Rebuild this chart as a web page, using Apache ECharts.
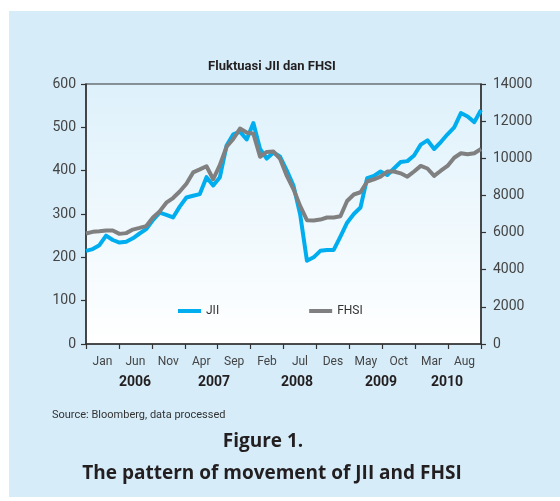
<!DOCTYPE html>
<html>
<head>
<meta charset="utf-8">
<script src="https://cdn.jsdelivr.net/npm/echarts@6/dist/echarts.min.js"></script>
<style>
  html, body { margin: 0; padding: 0; background: #fff; }
  #bg { position: absolute; left: 9px; top: 11px; width: 551px; height: 486px; background: #d6ecf9; }
  #main { position: absolute; left: 0; top: 0; width: 560px; height: 501px; }
</style>
</head>
<body>
<div id="bg"></div>
<div id="main"></div>
<script>
// tick labels (one per 5-month step)
var periodLabels = ['Jan', 'Jun', 'Nov', 'Apr', 'Sep', 'Feb', 'Jul', 'Des', 'May', 'Oct', 'Mar', 'Aug'];
var years = ['2006', '2007', '2008', '2009', '2010'];
var yearX = [135, 214, 297, 381, 447];

// monthly points Jan 2006 .. Dec 2010
var monthNames = ['Jan','Feb','Mar','Apr','May','Jun','Jul','Aug','Sep','Oct','Nov','Dec'];
var months = [];
for (var y = 2006; y <= 2010; y++) {
  for (var m = 0; m < 12; m++) months.push(monthNames[m] + ' ' + y);
}

var jii = [215, 219, 228, 250, 240, 234, 236, 244, 255, 265,
           286, 303, 298, 292, 317, 338, 342, 346, 385, 366,
           385, 458, 484, 490, 472, 510, 450, 428, 442, 432,
           400, 365, 298, 192, 200, 215, 217, 217, 248, 280,
           300, 315, 383, 388, 398, 390, 405, 420, 422, 435,
           460, 470, 450, 466, 484, 500, 533, 525, 512, 540];

var fhsi = [5950, 6040, 6070, 6110, 6110, 5930, 5970, 6160, 6250, 6350,
            6810, 7140, 7610, 7860, 8210, 8630, 9240, 9400, 9570, 8870,
            9640, 10620, 11040, 11600, 11390, 11320, 10080, 10340, 10360, 9960,
            9050, 8330, 7420, 6670, 6650, 6700, 6810, 6810, 6880, 7700,
            8050, 8170, 8750, 8870, 9010, 9290, 9290, 9190, 9010, 9290,
            9590, 9450, 9050, 9330, 9590, 10030, 10270, 10220, 10270, 10500];

var FONT = 'Roboto, "Noto Sans", sans-serif';
var textColor = '#231f20';
var axisColor = '#333';

var chart = echarts.init(document.getElementById('main'), null, { renderer: 'canvas' });

var yearTexts = years.map(function (t, i) {
  return {
    type: 'text',
    x: yearX[i],
    y: 382,
    style: { text: t, fill: textColor, font: 'bold 14px ' + FONT, align: 'center', verticalAlign: 'middle' }
  };
});

var option = {
  animation: false,
  backgroundColor: 'transparent',
  title: [
    {
      text: 'Fluktuasi JII dan FHSI',
      left: 267, top: 55, textAlign: 'center',
      textStyle: { fontSize: 13, fontWeight: 'bold', color: textColor, fontFamily: FONT }
    },
    {
      text: 'Source: Bloomberg, data processed',
      left: 47, top: 405,
      textStyle: { fontSize: 11, fontWeight: 'normal', color: '#333', fontFamily: FONT }
    },
    {
      text: 'Figure 1.',
      left: 258, top: 427, textAlign: 'center',
      textStyle: { fontSize: 19, fontWeight: 'bold', color: textColor, fontFamily: '"Open Sans", sans-serif' }
    },
    {
      text: 'The pattern of movement of JII and FHSI',
      left: 267, top: 459, textAlign: 'center',
      textStyle: { fontSize: 19, fontWeight: 'bold', color: textColor, fontFamily: '"Open Sans", sans-serif' }
    }
  ],
  legend: {
    left: 173, top: 300,
    itemGap: 90,
    itemWidth: 23, itemHeight: 4,
    icon: 'rect',
    textStyle: { fontSize: 12, color: '#333', fontFamily: FONT },
    data: ['JII', 'FHSI']
  },
  grid: {
    left: 86, right: 79, top: 84, bottom: 157,
    show: true,
    borderColor: axisColor, borderWidth: 1.2,
    backgroundColor: new echarts.graphic.LinearGradient(0, 0, 0, 1, [
      { offset: 0, color: '#def1fb' },
      { offset: 1, color: '#ffffff' }
    ])
  },
  xAxis: [
    {
      type: 'category',
      data: periodLabels,
      boundaryGap: true,
      axisLine: { show: true, lineStyle: { color: axisColor, width: 1.5 } },
      axisTick: { show: true, interval: 0, length: 5, lineStyle: { color: axisColor, width: 1.2 } },
      axisLabel: { interval: 0, margin: 12, fontSize: 12, color: '#444', fontFamily: FONT },
      splitLine: { show: false }
    },
    {
      type: 'category',
      data: months,
      boundaryGap: false,
      show: false
    }
  ],
  yAxis: [
    {
      type: 'value',
      min: 0, max: 600, interval: 100,
      position: 'left',
      axisLine: { show: true, lineStyle: { color: axisColor, width: 1.5 } },
      axisTick: { show: true, length: 5, lineStyle: { color: axisColor, width: 1.2 } },
      axisLabel: { margin: 10, fontSize: 14, color: '#444', fontFamily: FONT },
      splitLine: { show: false }
    },
    {
      type: 'value',
      min: 0, max: 14000, interval: 2000,
      position: 'right',
      axisLine: { show: true, lineStyle: { color: axisColor, width: 1.5 } },
      axisTick: { show: true, length: 5, lineStyle: { color: axisColor, width: 1.2 } },
      axisLabel: {
        margin: 12, fontSize: 14, color: '#444', fontFamily: FONT,
        formatter: function (v) { return String(v); }
      },
      splitLine: { show: false }
    }
  ],
  series: [
    {
      name: 'JII',
      type: 'line',
      xAxisIndex: 1, yAxisIndex: 0,
      data: jii,
      symbol: 'none',
      itemStyle: { color: '#00aeef' },
      lineStyle: { color: '#00aeef', width: 4, join: 'round' }
    },
    {
      name: 'FHSI',
      type: 'line',
      xAxisIndex: 1, yAxisIndex: 1,
      data: fhsi,
      symbol: 'none',
      itemStyle: { color: '#808080' },
      lineStyle: { color: '#808080', width: 4, join: 'round' }
    }
  ],
  graphic: yearTexts
};

chart.setOption(option);
</script>
</body>
</html>
